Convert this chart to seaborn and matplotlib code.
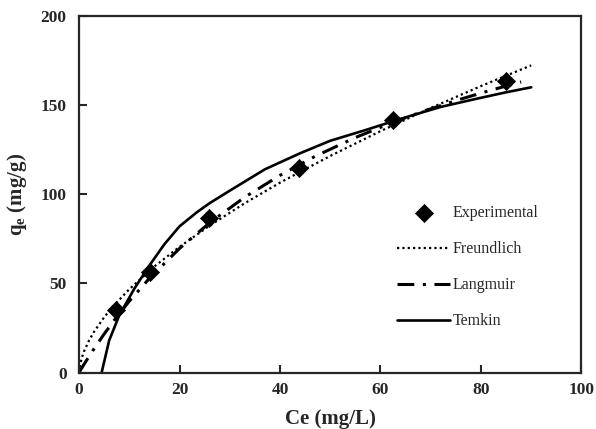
import pandas as pd
import matplotlib
matplotlib.use("Agg")
import matplotlib.pyplot as plt
import seaborn as sns

# experimental points
ce_exp = [7.3, 14.1, 25.9, 43.8, 62.5, 85.0]
qe_exp = [35.0, 56.5, 86.7, 115.0, 141.8, 163.5]

# model curves
ce_freundlich = [0, 0.5, 1, 2, 3, 5, 7, 10, 15, 20, 26, 33, 40, 50, 60, 70, 80, 90]
qe_freundlich = [0, 7.9, 11.9, 18.0, 22.9, 31.0, 37.8, 46.7, 59.5, 70.5, 82.4, 95.0,
                 106.5, 121.5, 135.4, 148.4, 160.7, 172.3]

ce_langmuir = [0, 1, 2, 3, 5, 7, 10, 14, 20, 26, 33, 40, 47, 55, 62.5, 69, 76, 82, 88]
qe_langmuir = [0, 4.6, 9.1, 13.4, 21.6, 29.3, 40.0, 52.8, 69.6, 84.0, 98.4, 110.6,
               121.3, 131.8, 140.4, 147.0, 153.4, 158.4, 163.0]

ce_temkin = [4.5, 6, 8, 11, 14, 17, 20, 23.5, 26, 30, 37, 44, 50, 57, 62, 66, 72, 79, 85, 90]
qe_temkin = [0, 18, 32, 47, 60, 72, 82, 90, 95, 102, 114, 123, 130, 136, 140.5, 144,
             149, 153.5, 157.2, 160]

sns.set_style("ticks")
plt.rcParams['font.family'] = ['Liberation Serif', 'DejaVu Serif']
plt.rcParams['mathtext.fontset'] = 'custom'
plt.rcParams['mathtext.rm'] = 'Liberation Serif'
plt.rcParams['mathtext.bf'] = 'Liberation Serif:bold'

fig = plt.figure(figsize=(5.96, 4.29), dpi=100)
ax = fig.add_axes([0.1326, 0.1317, 0.843, 0.831])

df_exp = pd.DataFrame({"Ce": ce_exp, "qe": qe_exp})
df_f = pd.DataFrame({"Ce": ce_freundlich, "qe": qe_freundlich})
df_l = pd.DataFrame({"Ce": ce_langmuir, "qe": qe_langmuir})
df_t = pd.DataFrame({"Ce": ce_temkin, "qe": qe_temkin})

sns.lineplot(data=df_f, x="Ce", y="qe", ax=ax, color="black", lw=1.6,
             linestyle=(0, (1, 1.4)), label="Freundlich", sort=False)
sns.lineplot(data=df_l, x="Ce", y="qe", ax=ax, color="black", lw=2.2,
             linestyle=(0, (5.5, 2.8, 1, 2.8)), label="Langmuir", sort=False)
sns.lineplot(data=df_t, x="Ce", y="qe", ax=ax, color="black", lw=1.9,
             label="Temkin", sort=False)
sns.scatterplot(data=df_exp, x="Ce", y="qe", ax=ax, color="black", marker="D",
                s=85, edgecolor="black", linewidth=0.5, label="Experimental", zorder=5)

ax.set_xlim(0, 100)
ax.set_ylim(0, 200)
ax.set_xticks([0, 20, 40, 60, 80, 100])
ax.set_yticks([0, 50, 100, 150, 200])
ax.tick_params(direction="in", length=6, width=1.5, labelsize=12.5)
ax.tick_params(axis="x", pad=7)
ax.tick_params(axis="y", pad=9)
for lab in ax.get_xticklabels() + ax.get_yticklabels():
    lab.set_fontweight("bold")
for sp in ax.spines.values():
    sp.set_linewidth(1.6)

ax.set_xlabel("Ce (mg/L)", fontsize=15, fontweight="bold", labelpad=8)
ax.set_ylabel(r"$\mathbf{q_e}$ (mg/g)", fontsize=15, fontweight="bold", labelpad=8)

handles, labels = ax.get_legend_handles_labels()
order = [labels.index(n) for n in ["Experimental", "Freundlich", "Langmuir", "Temkin"]]
ax.legend([handles[i] for i in order], [labels[i] for i in order],
          loc="center left", bbox_to_anchor=(0.605, 0.295), frameon=False,
          fontsize=11.5, handlelength=3.3, handletextpad=0.15, labelspacing=1.25)

fig.savefig("out.png", dpi=100)
